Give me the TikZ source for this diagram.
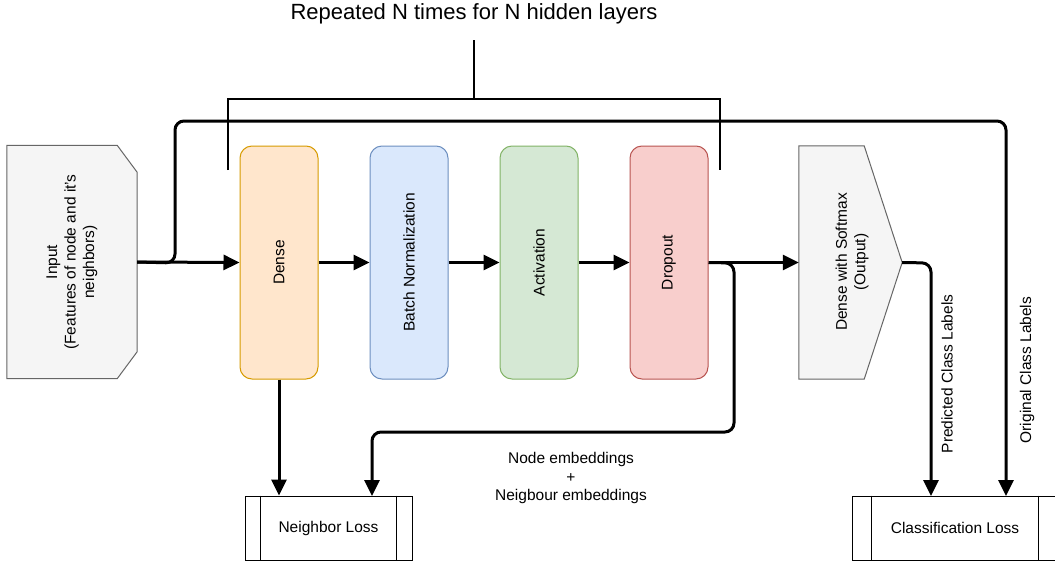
\documentclass[tikz,border=0pt]{standalone}
\usepackage{fontspec}
\setmainfont{Liberation Sans}
\usetikzlibrary{arrows.meta}
\definecolor{dfill}{HTML}{FFE6CC}\definecolor{dline}{HTML}{D79B00}
\definecolor{bfill}{HTML}{DAE8FC}\definecolor{bline}{HTML}{6C8EBF}
\definecolor{afill}{HTML}{D5E8D4}\definecolor{aline}{HTML}{82B366}
\definecolor{rfill}{HTML}{F8CECC}\definecolor{rline}{HTML}{B85450}
\definecolor{gfill}{HTML}{F5F5F5}\definecolor{gline}{HTML}{666666}
\tikzset{
  txt/.style={font=\fontsize{15.5}{18.5}\selectfont, align=center},
  layer/.style={draw, line width=1pt, rounded corners=12pt, minimum width=78pt, minimum height=233pt, inner sep=0pt},
  ghost/.style={draw=none, inner sep=0pt},
  lossbox/.style={draw, line width=1pt, minimum height=64pt, inner sep=0pt, txt},
  arr/.style={line width=3pt, -{Triangle[length=16pt,width=15pt]}, rounded corners=9pt},
  br/.style={line width=2pt},
}
\begin{document}
\begin{tikzpicture}[x=1pt,y=-1pt]
\useasboundingbox (0,0) rectangle (1055,565);
\fill[white] (0,0) rectangle (1055,565);

% input shape
\node[ghost, minimum width=130pt, minimum height=233pt] (in) at (72,262) {};
\draw[fill=gfill, draw=gline, line width=1pt]
  (in.north west) -- ([xshift=-20pt]in.north east) -- ([yshift=-27pt]in.north east)
  -- ([yshift=27pt]in.south east) -- ([xshift=-20pt]in.south east) -- (in.south west) -- cycle;
\node[txt, rotate=90] (intext) at (in.center) {Input\\(Features of node and it's\\neighbors)};

% layers
\node[layer, fill=dfill, draw=dline] (dense) at (279,262.5) {};
\node[txt, rotate=90] at (dense.center) {Dense};
\node[layer, fill=bfill, draw=bline] (bn) at (409,262.5) {};
\node[txt, rotate=90] at (bn.center) {Batch Normalization};
\node[layer, fill=afill, draw=aline] (act) at (539,262.5) {};
\node[txt, rotate=90] at (act.center) {Activation};
\node[layer, fill=rfill, draw=rline] (drop) at (669,262.5) {};
\node[txt, rotate=90] at (drop.center) {Dropout};

% softmax shape
\node[ghost, minimum width=103pt, minimum height=233pt] (sm) at (850.5,262.5) {};
\draw[fill=gfill, draw=gline, line width=1pt]
  (sm.north west) -- ([xshift=-38pt]sm.north east) -- (sm.east)
  -- ([xshift=-38pt]sm.south east) -- (sm.south west) -- cycle;
\node[txt, rotate=90] at (852,262) {Dense with Softmax\\(Output)};

% loss boxes
\node[lossbox, minimum width=167pt] (nl) at (328.5,528) {Neighbor Loss};
\draw[line width=1pt] ([xshift=16pt]nl.north west) -- ([xshift=16pt]nl.south west);
\draw[line width=1pt] ([xshift=-16pt]nl.north east) -- ([xshift=-16pt]nl.south east);
\node[lossbox, minimum width=206pt] (cl) at (955,528) {Classification Loss};
\draw[line width=1pt] ([xshift=20pt]cl.north west) -- ([xshift=20pt]cl.south west);
\draw[line width=1pt] ([xshift=-20pt]cl.north east) -- ([xshift=-20pt]cl.south east);

% bracket and title
\coordinate (bl) at (228,170);
\coordinate (brr) at (720,170);
\coordinate (bstem) at (474,99);
\node[font=\fontsize{22}{26}\selectfont] (title) at (474,14) {Repeated N times for N hidden layers};
\draw[br] (bl) -- (bl |- bstem) -- (brr |- bstem) -- (brr);
\draw[br] (bstem) -- (474,40);

% connectors
\draw[arr] (in.east) -- (dense.west);
\draw[arr] (dense.east) -- (bn.west);
\draw[arr] (bn.east) -- (act.west);
\draw[arr] (act.east) -- (drop.west);
\draw[arr] (drop.east) -- (sm.west);
\coordinate (orig) at (1006,496);
\draw[arr] (in.east) -- (175,263) -- (175,121) -- (1006,121) -- (orig);
\draw[arr] (dense.south) -- (dense.south |- nl.north);
\draw[arr] (drop.east) -- (734,263) -- (734,432) -- (372,432) -- (372,496);
\draw[arr] (sm.east) -- (931,263) -- (931,496);

% labels
\node[txt] (emb) at (571,478) {Node embeddings\\+\\Neigbour embeddings};
\node[txt, rotate=90] (plab) at (947,374) {Predicted Class Labels};
\node[txt, rotate=90] (olab) at (1027,370) {Original Class Labels};
\end{tikzpicture}
\end{document}
